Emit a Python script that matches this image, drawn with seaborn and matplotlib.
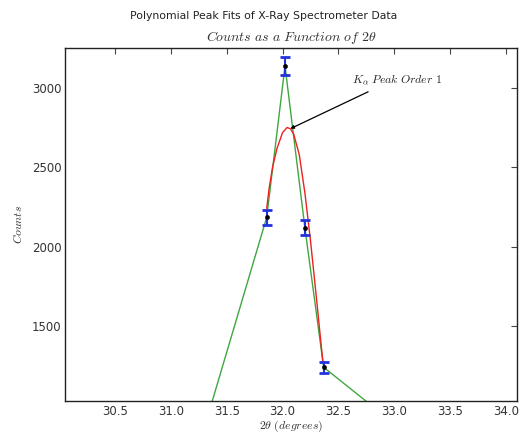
import numpy as np
import pandas as pd
import matplotlib
matplotlib.use("Agg")
import matplotlib.pyplot as plt
import seaborn as sns

# Measured data (with error bars)
angle = [31.858, 32.022, 32.200, 32.368]
counts = [2185, 3141, 2120, 1238]
count_err = [47, 56, 46, 35]

# Connected data line (includes neighbours outside the visible window)
line_angle = [31.20, 31.858, 32.022, 32.200, 32.368, 33.00]
line_counts = [620, 2185, 3141, 2120, 1238, 882]

# Polynomial fit curve
fit_angle = [31.858, 31.880, 31.910, 31.950, 32.000, 32.040, 32.070, 32.100,
             32.150, 32.200, 32.250, 32.300, 32.350, 32.362]
fit_counts = [2242, 2370, 2500, 2620, 2720, 2752, 2745, 2710,
              2580, 2340, 2040, 1700, 1350, 1270]

x_ticks = [30.5, 31.0, 31.5, 32.0, 32.5, 33.0, 33.5, 34.0]
y_ticks = [1500, 2000, 2500, 3000]

sns.set_style("white")
plt.rcParams.update({
    "font.family": ["DejaVu Sans"],
    "mathtext.fontset": "cm",
    "xtick.direction": "in",
    "ytick.direction": "in",
    "xtick.top": True,
    "ytick.right": True,
    "xtick.major.size": 4,
    "ytick.major.size": 4,
    "axes.edgecolor": "#222222",
    "axes.linewidth": 1.0,
})

fig = plt.figure(figsize=(5.28, 4.36), dpi=100)
ax = fig.add_axes([0.123, 0.080, 0.856, 0.810])

line_df = pd.DataFrame({"angle": line_angle, "counts": line_counts})
fit_df = pd.DataFrame({"angle": fit_angle, "counts": fit_counts})
pts_df = pd.DataFrame({"angle": angle, "counts": counts})

sns.lineplot(data=line_df, x="angle", y="counts", sort=False, color=(0.25, 0.65, 0.25),
             lw=1.0, ax=ax, zorder=2)
sns.lineplot(data=fit_df, x="angle", y="counts", sort=False, color="#ee2020",
             lw=1.0, ax=ax, zorder=3)
ax.errorbar(angle, counts, yerr=count_err, fmt="none", ecolor="#2233dd",
            elinewidth=1.5, capsize=3.5, capthick=2, zorder=4)
sns.scatterplot(data=pts_df, x="angle", y="counts", color="black", s=10,
                edgecolor="black", ax=ax, zorder=5)

ax.annotate(r"$K_{\alpha}\ Peak\ Order\ 1$", xy=(32.07, 2745), xytext=(32.62, 3033),
            textcoords="data", fontsize=8.5, ha="left", va="baseline",
            arrowprops=dict(arrowstyle="-|>", color="black", lw=0.9,
                            mutation_scale=5, relpos=(0.3, 0), shrinkA=3, shrinkB=0))

ax.set_xlim(30.05, 34.1)
ax.set_ylim(1024, 3255)
ax.set_xticks(x_ticks)
ax.set_xticklabels([f"{v:.1f}" for v in x_ticks], fontsize=8.5, color="#333333")
ax.set_yticks(y_ticks)
ax.set_yticklabels([str(v) for v in y_ticks], fontsize=8.5, color="#333333")
ax.tick_params(axis="both", which="major", colors="#444444", labelcolor="#333333", pad=2.5)

ax.set_xlabel(r"$2\theta\ (degrees)$", fontsize=8.5, color="#333333", labelpad=1)
ax.set_ylabel(r"$Counts$", fontsize=8.5, color="#333333", labelpad=5)
ax.set_title(r"$Counts\ as\ a\ Function\ of\ 2\theta$", fontsize=10, color="#333333", pad=5)
fig.suptitle("Polynomial Peak Fits of X-Ray Spectrometer Data", fontsize=7.8,
             color="#222222", y=0.975)

fig.savefig("out.png", dpi=100)
